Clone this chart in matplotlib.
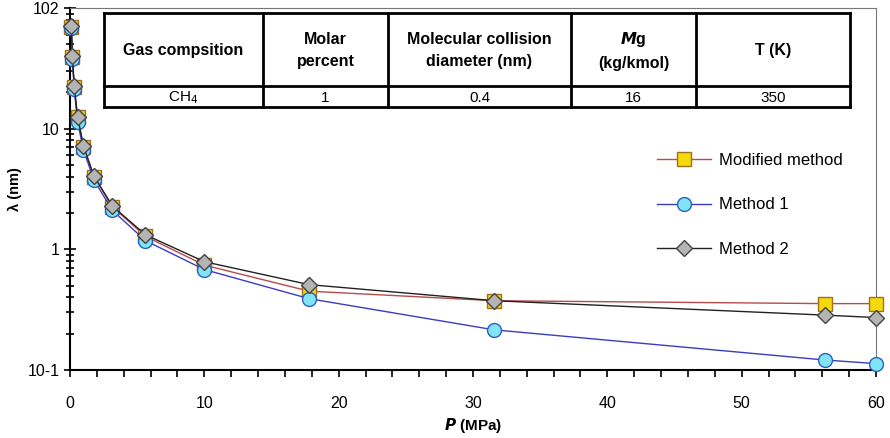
import matplotlib.pyplot as plt
from matplotlib.ticker import MultipleLocator, LogLocator, FixedLocator, NullFormatter

plt.rcParams['font.family'] = ['Liberation Sans', 'DejaVu Sans']

# pressure (MPa) and mean free path (nm)
P = [0.1, 0.178, 0.316, 0.562, 1.0, 1.78, 3.16, 5.62, 10.0, 17.8, 31.6, 56.2, 60.0]
lam_mod = [70, 39.5, 22.2, 12.4, 7.1, 4.0, 2.25, 1.28, 0.74, 0.45, 0.375, 0.355, 0.355]
lam_m1 = [68, 38, 21.3, 11.4, 6.7, 3.75, 2.1, 1.18, 0.68, 0.39, 0.215, 0.121, 0.113]
lam_m2 = [71, 40, 22.5, 12.6, 7.2, 4.05, 2.28, 1.32, 0.79, 0.51, 0.375, 0.285, 0.272]

col_labels = ['Gas compsition', 'Molar\npercent', 'Molecular collision\ndiameter (nm)',
              r'$\mathbfit{M}$g' + '\n(kg/kmol)', 'T (K)']
row_values = ['CH$_4$', '1', '0.4', '16', '350']

fig = plt.figure(figsize=(8.9, 4.38), dpi=100)
ax = fig.add_axes([70 / 890, 1 - 370 / 438, 806 / 890, 362 / 438])

ax.plot(P, lam_mod, color='#b84a4a', lw=1.0, marker='s', ms=10, clip_on=False,
        mfc='#f5d90a', mec='#a07020', mew=1.0, label='Modified method', zorder=3)
ax.plot(P, lam_m1, color='#3c3cc0', lw=1.0, marker='o', ms=10, clip_on=False,
        mfc='#80e4f4', mec='#2f5fbf', mew=1.0, label='Method 1', zorder=3)
ax.plot(P, lam_m2, color='#222222', lw=1.0, marker='D', ms=8, clip_on=False,
        mfc='#b4b4b4', mec='#444444', mew=1.0, label='Method 2', zorder=4)

ax.set_yscale('log')
ax.set_xlim(0, 60)
ax.set_ylim(0.1, 100)

ax.xaxis.set_major_locator(MultipleLocator(10))
ax.xaxis.set_minor_locator(MultipleLocator(2))
ax.yaxis.set_major_locator(FixedLocator([0.1, 1, 10, 100]))
ax.yaxis.set_minor_locator(LogLocator(base=10, subs=range(2, 10)))
ax.yaxis.set_minor_formatter(NullFormatter())
ax.set_yticklabels(['10-1', '1', '10', '102'])

ax.tick_params(axis='both', which='both', labelsize=11.5, top=False, right=False, width=1.2)
ax.tick_params(axis='x', which='both', direction='out', length=5, pad=14)
ax.tick_params(axis='y', which='major', direction='inout', length=9, pad=3)
ax.tick_params(axis='y', which='minor', direction='inout', length=6)

for s in ['left', 'bottom']:
    ax.spines[s].set_linewidth(1.5)
for s in ['top', 'right']:
    ax.spines[s].set_linewidth(0.8)
    ax.spines[s].set_color('#777777')

ax.set_xlabel(r'$\mathbfit{P}$ (MPa)', fontsize=11, fontweight='bold', labelpad=3)
ax.set_ylabel('λ (nm)', fontsize=10.5, fontweight='bold', labelpad=4)

ax.legend(loc='upper left', bbox_to_anchor=(0.71, 0.64), frameon=False, fontsize=12,
          labelspacing=1.75, handlelength=3.2, handletextpad=0.5)

# table drawn in pixel coordinates on an overlay
ov = fig.add_axes([0, 0, 1, 1])
ov.set_xlim(0, 890)
ov.set_ylim(438, 0)
ov.axis('off')
xs = [104, 263, 388, 571, 696, 850]
y_top, y_mid, y_bot = 13, 86, 107
ov.fill_between([xs[0], xs[-1]], y_top, y_bot, color='white', zorder=1)
for x in xs:
    ov.plot([x, x], [y_top, y_bot], color='black', lw=2, zorder=2)
for y in [y_top, y_mid, y_bot]:
    ov.plot([xs[0], xs[-1]], [y, y], color='black', lw=2, zorder=2)
for i in range(5):
    cx = (xs[i] + xs[i + 1]) / 2
    ov.text(cx, (y_top + y_mid) / 2 + 1, col_labels[i], ha='center', va='center',
            fontsize=11.5, fontweight='bold', linespacing=1.55, zorder=3)
    ov.text(cx, (y_mid + y_bot) / 2 + 1, row_values[i], ha='center', va='center',
            fontsize=11, zorder=3)

fig.savefig('out.png', dpi=100)
